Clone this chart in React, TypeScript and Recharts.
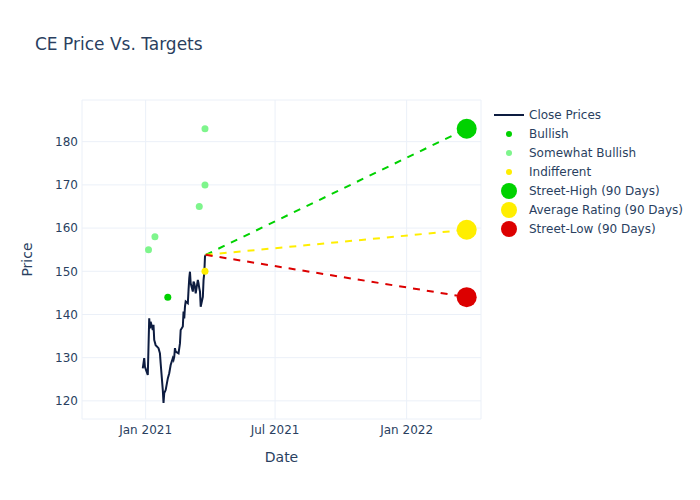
import { ComposedChart, Line, Scatter, XAxis, YAxis, CartesianGrid } from 'recharts';

// close prices (daily)
const closeDates = [
  '2020-12-28', '2020-12-30', '2020-12-31', '2021-01-04', '2021-01-05', '2021-01-06', '2021-01-07', '2021-01-08',
  '2021-01-11', '2021-01-12', '2021-01-13', '2021-01-15', '2021-01-19', '2021-01-21', '2021-01-22', '2021-01-25',
  '2021-01-26', '2021-01-27', '2021-01-29', '2021-02-01', '2021-02-03', '2021-02-05', '2021-02-08', '2021-02-09',
  '2021-02-10', '2021-02-11', '2021-02-12', '2021-02-16', '2021-02-18', '2021-02-19', '2021-02-22', '2021-02-23',
  '2021-02-24', '2021-02-25', '2021-02-26', '2021-03-01', '2021-03-02', '2021-03-03', '2021-03-04', '2021-03-05',
  '2021-03-08', '2021-03-09', '2021-03-10', '2021-03-11', '2021-03-12', '2021-03-15', '2021-03-16', '2021-03-17',
  '2021-03-18', '2021-03-19', '2021-03-22', '2021-03-23', '2021-03-24', '2021-03-25', '2021-03-26',
];
const closePrices = [
  127.5, 129.9, 127.9, 126.0, 132.5, 139.1, 136.8, 138.3,
  136.4, 137.6, 134.1, 132.9, 132.2, 131.0, 128.7, 122.5,
  119.5, 121.8, 122.5, 125.2, 126.4, 128.3, 129.9, 129.5,
  130.2, 132.2, 131.4, 131.0, 133.3, 136.4, 137.2, 140.7,
  139.1, 141.8, 143.0, 142.6, 145.7, 148.4, 149.9, 147.2,
  145.3, 147.6, 147.2, 146.4, 144.9, 148.0, 147.2, 146.1,
  145.3, 141.8, 144.1, 148.0, 149.5, 153.4, 153.8,
];

// analyst ratings
const bullishDates = ['2021-02-01'];
const bullishTargets = [144];
const somewhatBullishDates = ['2021-01-05', '2021-01-14', '2021-03-17', '2021-03-25', '2021-03-25'];
const somewhatBullishTargets = [155, 158, 165, 170, 183];
const indifferentDates = ['2021-03-25'];
const indifferentTargets = [150];

// 90 day targets
const targetDate = '2022-03-26';
const streetHigh = 183;
const averageRating = 159.6;
const streetLow = 144;

const xTicks = ['2021-01-01', '2021-07-01', '2022-01-01'];
const yTicks = [120, 130, 140, 150, 160, 170, 180];
const months = ['Jan', 'Feb', 'Mar', 'Apr', 'May', 'Jun', 'Jul', 'Aug', 'Sep', 'Oct', 'Nov', 'Dec'];

const toTs = (s: string) => Date.parse(s + 'T00:00:00Z');
const fmtDate = (t: number) => {
  const d = new Date(t);
  return `${months[d.getUTCMonth()]} ${d.getUTCFullYear()}`;
};
const pairs = (dates: string[], vals: number[]) => dates.map((d, i) => ({ t: toTs(d), v: vals[i] }));

const FONT = '"DejaVu Sans", Verdana, sans-serif';
const TEXT = '#2a3f5f';
const GREEN = '#00d200';
const LIGHT_GREEN = '#7ef58c';
const YELLOW = '#ffee00';
const RED = '#dc0000';
const NAVY = '#0d1c40';

const dot = (r: number, fill: string) => (props: any) =>
  <circle cx={props.cx} cy={props.cy} r={r} fill={fill} />;

const legendItems = [
  { name: 'Close Prices', kind: 'line', color: NAVY, r: 0 },
  { name: 'Bullish', kind: 'dot', color: GREEN, r: 3 },
  { name: 'Somewhat Bullish', kind: 'dot', color: LIGHT_GREEN, r: 3 },
  { name: 'Indifferent', kind: 'dot', color: YELLOW, r: 3 },
  { name: 'Street-High (90 Days)', kind: 'dot', color: GREEN, r: 8 },
  { name: 'Average Rating (90 Days)', kind: 'dot', color: YELLOW, r: 8 },
  { name: 'Street-Low (90 Days)', kind: 'dot', color: RED, r: 8 },
];

export default function App() {
  const closeData = pairs(closeDates, closePrices);
  const last = closeData[closeData.length - 1];
  const tEnd = toTs(targetDate);
  const highLine = [last, { t: tEnd, v: streetHigh }];
  const avgLine = [last, { t: tEnd, v: averageRating }];
  const lowLine = [last, { t: tEnd, v: streetLow }];

  return (
    <div style={{ position: 'absolute', left: 0, top: 0, width: 700, height: 500, background: '#fff', fontFamily: FONT }}>
      <ComposedChart width={700} height={500} margin={{ top: 100, right: 219, bottom: 0, left: 0 }}>
        <CartesianGrid stroke="#ebf0f8" strokeWidth={1} />
        <XAxis
          type="number"
          dataKey="t"
          domain={[toTs('2020-10-04'), toTs('2022-04-15')]}
          ticks={xTicks.map(toTs)}
          tickFormatter={fmtDate}
          allowDataOverflow
          axisLine={false}
          tickLine={false}
          tickSize={0}
          tickMargin={6}
          height={81}
          tick={{ fill: TEXT, fontSize: 12, fontFamily: FONT }}
          label={{
            content: () => (
              <text x={281.5} y={457} textAnchor="middle" dominantBaseline="central" fill={TEXT} fontSize={14} fontFamily={FONT}>
                Date
              </text>
            ),
          }}
        />
        <YAxis
          type="number"
          dataKey="v"
          domain={[115.8, 189.65]}
          ticks={yTicks}
          allowDataOverflow
          axisLine={false}
          tickLine={false}
          tickSize={0}
          tickMargin={4}
          width={82}
          tick={{ fill: TEXT, fontSize: 12, fontFamily: FONT }}
          label={{
            content: () => (
              <text x={27} y={259.5} textAnchor="middle" dominantBaseline="central" fill={TEXT} fontSize={14} fontFamily={FONT}
                transform="rotate(-90 27 259.5)">
                Price
              </text>
            ),
          }}
        />
        <Line data={closeData} dataKey="v" stroke={NAVY} strokeWidth={2} dot={false} isAnimationActive={false} />
        <Line data={highLine} dataKey="v" stroke={GREEN} strokeWidth={2} strokeDasharray="7 7" dot={false} isAnimationActive={false} />
        <Line data={avgLine} dataKey="v" stroke={YELLOW} strokeWidth={2} strokeDasharray="7 7" dot={false} isAnimationActive={false} />
        <Line data={lowLine} dataKey="v" stroke={RED} strokeWidth={2} strokeDasharray="7 7" dot={false} isAnimationActive={false} />
        <Scatter data={pairs(bullishDates, bullishTargets)} dataKey="v" shape={dot(3.5, GREEN)} isAnimationActive={false} />
        <Scatter data={pairs(somewhatBullishDates, somewhatBullishTargets)} dataKey="v" shape={dot(3.5, LIGHT_GREEN)} isAnimationActive={false} />
        <Scatter data={pairs(indifferentDates, indifferentTargets)} dataKey="v" shape={dot(3.5, YELLOW)} isAnimationActive={false} />
        <Scatter data={[{ t: tEnd, v: streetHigh }]} dataKey="v" shape={dot(10, GREEN)} isAnimationActive={false} />
        <Scatter data={[{ t: tEnd, v: averageRating }]} dataKey="v" shape={dot(10, YELLOW)} isAnimationActive={false} />
        <Scatter data={[{ t: tEnd, v: streetLow }]} dataKey="v" shape={dot(10, RED)} isAnimationActive={false} />
      </ComposedChart>

      <div style={{ position: 'absolute', left: 35, top: 33, fontSize: 17, color: TEXT, lineHeight: '22px' }}>
        CE Price Vs. Targets
      </div>

      <svg style={{ position: 'absolute', left: 490, top: 100 }} width={210} height={145}>
        {legendItems.map((it, i) => {
          const y = 15 + i * 19;
          return (
            <g key={it.name}>
              {it.kind === 'line'
                ? <line x1={4} x2={34} y1={y} y2={y} stroke={it.color} strokeWidth={2} />
                : <circle cx={19} cy={y} r={it.r} fill={it.color} />}
              <text x={39} y={y} dominantBaseline="central" fill={TEXT} fontSize={12} fontFamily={FONT}>
                {it.name}
              </text>
            </g>
          );
        })}
      </svg>
    </div>
  );
}
